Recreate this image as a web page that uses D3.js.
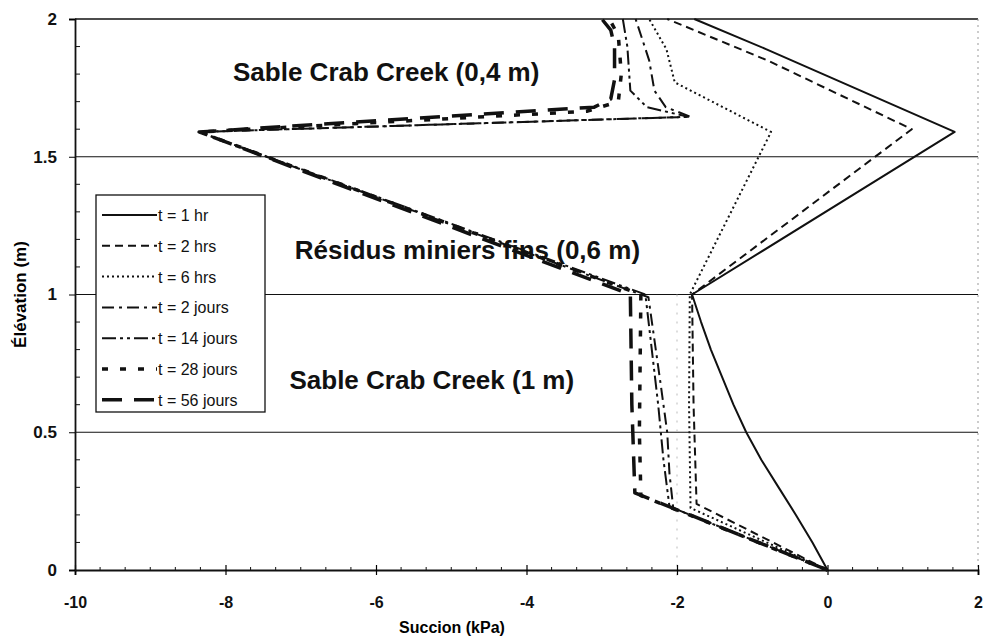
<!DOCTYPE html>
<html>
<head>
<meta charset="utf-8">
<script src="https://cdn.jsdelivr.net/npm/d3@7"></script>
<style>
  body { margin: 0; background: #fff; }
  svg { font-family: "Liberation Sans", Arial, sans-serif; }
</style>
</head>
<body>
<svg id="chart" width="985" height="639"></svg>
<script>
// Profils de succion: [succion (kPa), élévation (m)]
const t1hr = [[0, 0], [-0.20, 0.1], [-0.42, 0.2], [-0.65, 0.3], [-0.88, 0.4], [-1.08, 0.5],
  [-1.25, 0.6], [-1.40, 0.7], [-1.55, 0.8], [-1.68, 0.9], [-1.80, 1.0], [1.69, 1.59],
  [-0.81, 1.89], [-1.77, 2.0]];
const t2hrs = [[0, 0], [-1.74, 0.24], [-1.78, 0.6], [-1.80, 1.0], [1.12, 1.6],
  [-0.80, 1.85], [-2.13, 2.0]];
const t6hrs = [[0, 0], [-1.82, 0.225], [-1.84, 0.6], [-1.83, 1.0], [-0.75, 1.59],
  [-2.03, 1.77], [-2.14, 1.89], [-2.37, 2.0]];
const t2jours = [[0, 0], [-2.05, 0.225], [-2.10, 0.35], [-2.13, 0.5], [-2.22, 0.68],
  [-2.38, 0.99], [-8.35, 1.59], [-1.82, 1.645], [-2.15, 1.68], [-2.30, 1.74],
  [-2.37, 1.85], [-2.55, 2.0]];
const t14jours = [[0, 0], [-2.10, 0.23], [-2.18, 0.4], [-2.25, 0.6], [-2.42, 1.0],
  [-8.35, 1.59], [-1.85, 1.645], [-2.40, 1.68], [-2.62, 1.74], [-2.66, 1.9], [-2.72, 2.0]];
const t28jours = [[0, 0], [-2.48, 0.27], [-2.50, 0.5], [-2.48, 1.0], [-8.35, 1.59],
  [-3.20, 1.665], [-2.78, 1.70], [-2.74, 1.8], [-2.78, 1.94], [-2.90, 2.0]];
const t56jours = [[0, 0], [-2.56, 0.28], [-2.60, 0.6], [-2.62, 1.0], [-8.35, 1.59],
  [-3.10, 1.68], [-2.88, 1.71], [-2.83, 1.78], [-2.83, 1.9], [-2.88, 1.96], [-3.00, 2.0]];

const seriesNames = ["t = 1 hr", "t = 2 hrs", "t = 6 hrs", "t = 2 jours", "t = 14 jours",
  "t = 28 jours", "t = 56 jours"];
const seriesData = [t1hr, t2hrs, t6hrs, t2jours, t14jours, t28jours, t56jours];

const xTicks = [-10, -8, -6, -4, -2, 0, 2];
const yTicks = [0, 0.5, 1, 1.5, 2];
const annotations = [
  { text: "Sable Crab Creek (0,4 m)", x: -7.9, y: 1.775 },
  { text: "Résidus miniers fins (0,6 m)", x: -7.08, y: 1.13 },
  { text: "Sable Crab Creek (1 m)", x: -7.15, y: 0.657 }
];

// styles des traits
const styles = [
  { dash: null, w: 2 },
  { dash: "8,5", w: 2 },
  { dash: "2,3", w: 2 },
  { dash: "12,5,3,5", w: 2 },
  { dash: "14,4,3,4,3,4", w: 2 },
  { dash: "6,12", w: 3.5 },
  { dash: "20,12", w: 3.5 }
];

const margin = { top: 19, right: 7, bottom: 69, left: 75 };
const W = 985, H = 639;

const svg = d3.select("#chart");

const x = d3.scaleLinear().domain([-10, 2]).range([margin.left, W - margin.right]);
const y = d3.scaleLinear().domain([0, 2]).range([H - margin.bottom, margin.top]);

// lignes horizontales (0.5, 1, 1.5) et bordure du haut
svg.append("g")
  .selectAll("line")
  .data([0.5, 1, 1.5, 2])
  .enter().append("line")
  .attr("x1", x(-10))
  .attr("x2", x(2))
  .attr("y1", d => y(d))
  .attr("y2", d => y(d))
  .attr("stroke", "#111")
  .attr("stroke-width", d => d === 2 ? 1.6 : 1.1);

// bordure droite pointillée
svg.append("line")
  .attr("x1", x(2)).attr("x2", x(2))
  .attr("y1", y(2)).attr("y2", y(0))
  .attr("stroke", "#999")
  .attr("stroke-dasharray", "2,4");

// trait vertical pâle à -2
svg.append("line")
  .attr("x1", x(-2)).attr("x2", x(-2))
  .attr("y1", y(1)).attr("y2", y(0) + 6)
  .attr("stroke", "#bbb")
  .attr("stroke-dasharray", "2,7");

// Axe X
const xAxis = svg.append("g")
  .attr("transform", `translate(0,${y(0)})`)
  .call(d3.axisBottom(x).tickValues(xTicks).tickSize(5).tickPadding(22)
    .tickFormat(d3.format("d")));
xAxis.select(".domain").attr("stroke", "#111").attr("stroke-width", 1.8);
xAxis.selectAll(".tick line").attr("y1", -5).attr("stroke-width", 1.2);
xAxis.selectAll("text")
  .style("font-size", "16px")
  .style("font-weight", "bold")
  .attr("fill", "#111")
  .text(d => d < 0 ? "-" + Math.abs(d) : d);

// petites graduations X (tous les 1/3)
const xMinor = d3.range(-10, 2.001, 1 / 3).filter(v => Math.abs(v - Math.round(v / 2) * 2) > 0.01);
svg.append("g")
  .selectAll("line")
  .data(xMinor)
  .enter().append("line")
  .attr("x1", d => x(d)).attr("x2", d => x(d))
  .attr("y1", y(0)).attr("y2", y(0) - 3)
  .attr("stroke", "#111");

// Axe Y
const yAxis = svg.append("g")
  .attr("transform", `translate(${x(-10)},0)`)
  .call(d3.axisLeft(y).tickValues(yTicks).tickSize(6).tickPadding(12)
    .tickFormat(d => d));
yAxis.select(".domain").attr("stroke", "#111").attr("stroke-width", 1.8);
yAxis.selectAll("text")
  .style("font-size", "17px")
  .style("font-weight", "bold")
  .attr("fill", "#111");

// petites graduations Y (tous les 0.1)
svg.append("g")
  .selectAll("line")
  .data(d3.range(0.1, 2, 0.1).filter(v => Math.abs(v * 2 - Math.round(v * 2)) > 0.01))
  .enter().append("line")
  .attr("x1", x(-10)).attr("x2", x(-10) + 5)
  .attr("y1", d => y(d)).attr("y2", d => y(d))
  .attr("stroke", "#111");

// titres des axes
svg.append("text")
  .attr("x", 452)
  .attr("y", 633)
  .attr("text-anchor", "middle")
  .style("font-size", "16px")
  .style("font-weight", "bold")
  .text("Succion (kPa)");

svg.append("text")
  .attr("transform", `translate(26,${y(1)}) rotate(-90)`)
  .attr("text-anchor", "middle")
  .style("font-size", "17px")
  .style("font-weight", "bold")
  .text("Élévation (m)");

// courbes
const line = d3.line()
  .x(d => x(d[0]))
  .y(d => y(d[1]));

svg.append("g")
  .selectAll("path")
  .data(seriesData)
  .enter().append("path")
  .attr("d", line)
  .attr("fill", "none")
  .attr("stroke", "#111")
  .attr("stroke-width", (d, i) => styles[i].w)
  .attr("stroke-dasharray", (d, i) => styles[i].dash)
  .attr("stroke-linejoin", "round");

// annotations
svg.append("g")
  .selectAll("text")
  .data(annotations)
  .enter().append("text")
  .attr("x", d => x(d.x))
  .attr("y", d => y(d.y))
  .style("font-size", "26px")
  .style("font-weight", "bold")
  .attr("fill", "#111")
  .text(d => d.text);

// légende
const legend = svg.append("g").attr("transform", "translate(96,195)");
legend.append("rect")
  .attr("width", 169)
  .attr("height", 217)
  .attr("fill", "#fff")
  .attr("stroke", "#111")
  .attr("stroke-width", 1.3);

const rows = legend.selectAll("g.row")
  .data(seriesNames)
  .enter().append("g")
  .attr("class", "row")
  .attr("transform", (d, i) => `translate(0,${20 + i * 30.8})`);

rows.append("line")
  .attr("x1", 6).attr("x2", 61)
  .attr("stroke", "#111")
  .attr("stroke-width", (d, i) => styles[i].w)
  .attr("stroke-dasharray", (d, i) => styles[i].dash);

rows.append("text")
  .attr("x", 62)
  .attr("y", 6)
  .style("font-size", "16px")
  .attr("fill", "#111")
  .text(d => d);
</script>
</body>
</html>
